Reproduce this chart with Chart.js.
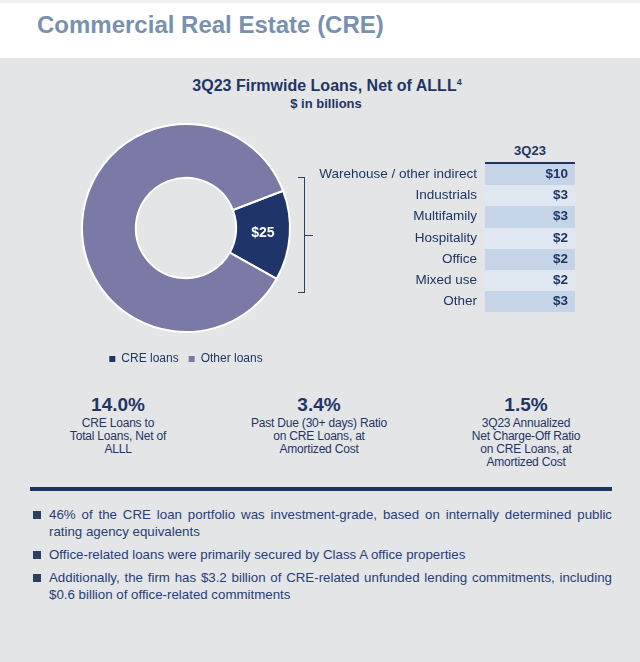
<!DOCTYPE html>
<html>
<head>
<meta charset="utf-8">
<script src="https://cdn.jsdelivr.net/npm/chart.js@4"></script>
<style>
  html, body { margin: 0; padding: 0; }
  body { width: 640px; height: 662px; background: #e4e5e6; position: relative; overflow: hidden;
         font-family: "Liberation Sans", Arial, sans-serif; color: #1f3566; }
  #header { position: absolute; left: 0; top: 0; width: 640px; height: 58px; background: #ffffff; border-top: 3px solid #f0f0f0; box-sizing: border-box; }
  #header h1 { position: absolute; left: 37px; top: 8px; margin: 0; font-size: 24px; font-weight: bold; color: #7991af; white-space: nowrap; }
  #ctitle { position: absolute; left: 0; width: 654px; top: 77px; text-align: center; font-size: 16px; font-weight: bold; color: #1f3566; }
  #ctitle sup { font-size: 9px; vertical-align: 6px; }
  #csub { position: absolute; left: 0; width: 652px; top: 96px; text-align: center; font-size: 13px; font-weight: bold; color: #1f3566; }
  #chartBox { position: absolute; left: 36px; top: 113px; width: 300px; height: 262px; }
  #bracket { position: absolute; left: 298px; top: 177px; width: 7px; height: 116px; border: 1.5px solid #2a3d6c; border-left: none; box-sizing: border-box; }
  #bracketTick { position: absolute; left: 305px; top: 234.5px; width: 8px; height: 1.5px; background: #2a3d6c; }
  #table { position: absolute; left: 300px; top: 143px; }
  .thead { position: absolute; left: 185px; width: 90px; top: 0; height: 19px; text-align: center; font-weight: bold; font-size: 13px; border-bottom: 2px solid #1f3566; }
  .row { position: absolute; left: 0; width: 275px; height: 21.2px; }
  .row .lab { position: absolute; right: 98px; top: 2px; font-size: 13.5px; white-space: nowrap; }
  .row .val { position: absolute; left: 185px; width: 90px; height: 21.2px; }
  .row .val span { position: absolute; right: 7px; top: 2px; font-size: 13.5px; font-weight: bold; }
  .stat { position: absolute; top: 395px; width: 150px; text-align: center; }
  .stat .num { font-size: 19px; font-weight: bold; line-height: 20px; }
  .stat .txt { font-size: 12px; line-height: 13px; margin-top: 2px; letter-spacing: -0.2px; }
  #rule { position: absolute; left: 30px; top: 487px; width: 582px; height: 4px; background: #1f3566; }
  #bullets { position: absolute; left: 33px; top: 506px; width: 579px; }
  .b { position: relative; padding-left: 16px; font-size: 13.3px; line-height: 17px; text-align: justify; color: #26407a; margin-bottom: 6px; }
  .b::before { content: ""; position: absolute; left: 0; top: 5px; width: 8px; height: 8px; background: #2d3e63; }
</style>
</head>
<body>
<div id="header"><h1>Commercial Real Estate (CRE)</h1></div>
<div id="ctitle">3Q23 Firmwide Loans, Net of ALLL<sup>4</sup></div>
<div id="csub">$ in billions</div>
<div id="chartBox"><canvas id="c" width="300" height="262"></canvas></div>
<div id="bracket"></div><div id="bracketTick"></div>
<div id="table"></div>
<div id="stats"></div>
<div id="rule"></div>
<div id="bullets"></div>
<script>
// ---- data ----
const donutLabels = ["CRE loans", "Other loans"];
const donutValues = [25, 154];          // $ billions (CRE = 14.0% of total)
const donutColors = ["#1f356a", "#7b7aa6"];

const tableHeader = "3Q23";
const creCategories = ["Warehouse / other indirect", "Industrials", "Multifamily", "Hospitality", "Office", "Mixed use", "Other"];
const creValues = [10, 3, 3, 2, 2, 2, 3];

const statValues = ["14.0%", "3.4%", "1.5%"];
const statLabels = [
  ["CRE Loans to", "Total Loans, Net of", "ALLL"],
  ["Past Due (30+ days) Ratio", "on CRE Loans, at", "Amortized Cost"],
  ["3Q23 Annualized", "Net Charge-Off Ratio", "on CRE Loans, at", "Amortized Cost"]
];
const statCenters = [118, 319, 526];

const bulletTexts = [
  "46% of the CRE loan portfolio was investment-grade, based on internally determined public rating agency equivalents",
  "Office-related loans were primarily secured by Class A office properties",
  "Additionally, the firm has $3.2 billion of CRE-related unfunded lending commitments, including $0.6 billion of office-related commitments"
];

// ---- table ----
const rowColors = ["#c6d4e7", "#dfe7f1"];
const tbl = document.getElementById("table");
const th = document.createElement("div"); th.className = "thead"; th.textContent = tableHeader; tbl.appendChild(th);
creCategories.forEach((cat, i) => {
  const r = document.createElement("div"); r.className = "row";
  r.style.top = (21 + i * 21.2) + "px";
  const l = document.createElement("div"); l.className = "lab"; l.textContent = cat;
  const v = document.createElement("div"); v.className = "val"; v.style.background = rowColors[i % 2];
  const s = document.createElement("span"); s.textContent = "$" + creValues[i]; v.appendChild(s);
  r.appendChild(l); r.appendChild(v); tbl.appendChild(r);
});

// ---- stats ----
const st = document.getElementById("stats");
statValues.forEach((v, i) => {
  const d = document.createElement("div"); d.className = "stat";
  d.style.left = (statCenters[i] - 75) + "px";
  d.innerHTML = '<div class="num">' + v + '</div><div class="txt">' + statLabels[i].join("<br>") + '</div>';
  st.appendChild(d);
});

// ---- bullets ----
const bl = document.getElementById("bullets");
bulletTexts.forEach(t => { const d = document.createElement("div"); d.className = "b"; d.textContent = t; bl.appendChild(d); });

// ---- chart ----
const valueLabelPlugin = {
  id: "valueLabel",
  afterDatasetsDraw(chart) {
    const ctx = chart.ctx;
    const meta = chart.getDatasetMeta(0);
    const arc = meta.data[0];
    const p = arc.tooltipPosition();
    ctx.save();
    ctx.fillStyle = "#ffffff";
    ctx.font = "bold 14px 'Liberation Sans', Arial, sans-serif";
    ctx.textAlign = "center"; ctx.textBaseline = "middle";
    ctx.fillText("$" + donutValues[0], p.x, p.y);
    ctx.restore();
  }
};

new Chart(document.getElementById("c"), {
  type: "doughnut",
  data: {
    labels: donutLabels,
    datasets: [{
      data: donutValues,
      backgroundColor: donutColors,
      borderColor: "#ffffff",
      borderWidth: 2,
      radius: 104,
      cutout: 55
    }]
  },
  options: {
    responsive: false,
    animation: false,
    rotation: 69,
    layout: { padding: 0 },
    plugins: {
      tooltip: { enabled: false },
      legend: {
        position: "bottom",
        labels: {
          usePointStyle: true,
          pointStyle: "rect",
          boxWidth: 6, boxHeight: 6,
          padding: 10,
          color: "#1f3566",
          font: { family: "'Liberation Sans', Arial, sans-serif", size: 12 },
          generateLabels(chart) {
            const items = Chart.overrides.doughnut.plugins.legend.labels.generateLabels(chart);
            items.forEach(it => { it.lineWidth = 0; it.strokeStyle = "rgba(0,0,0,0)"; });
            return items;
          }
        }
      }
    }
  },
  plugins: [valueLabelPlugin]
});
</script>
</body>
</html>
